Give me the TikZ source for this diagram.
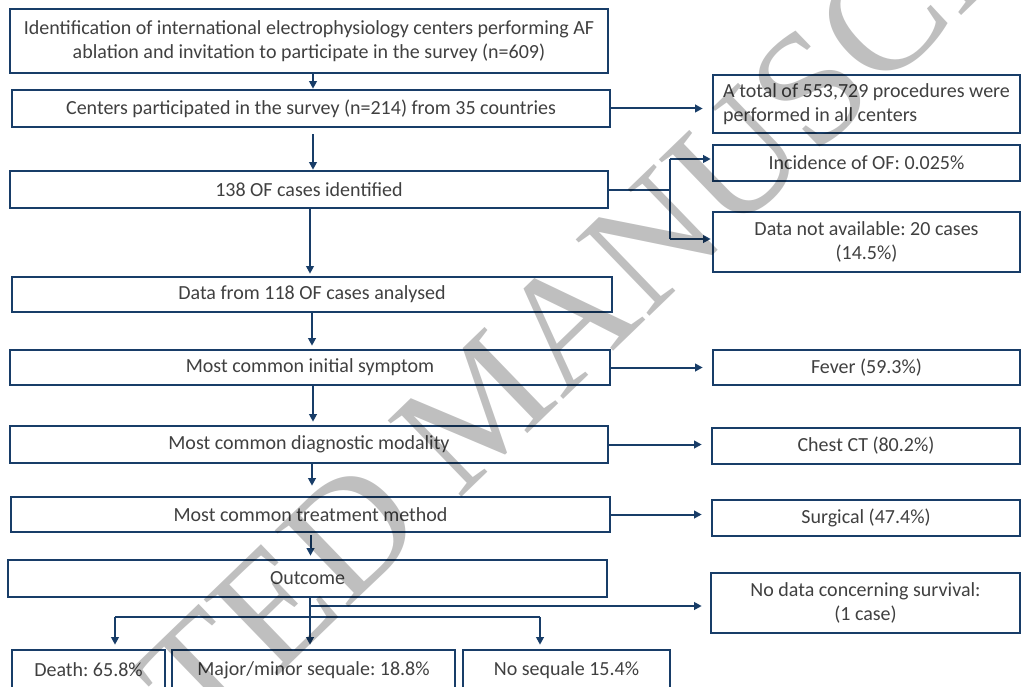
\documentclass[tikz,border=0pt]{standalone}
\usepackage{fontspec}
\setmainfont{Carlito}
\newfontfamily\wmfont{Liberation Serif}
\usetikzlibrary{arrows.meta,calc}
\definecolor{navy}{RGB}{24,61,104}
\definecolor{txt}{RGB}{64,64,64}
\frenchspacing
\tikzset{
  box/.style={draw=navy, line width=2.6pt, rectangle, inner sep=0pt, text=txt,
    font=\fontsize{20}{24}\selectfont\frenchspacing, align=center},
  conn/.style={draw=navy, line width=2pt},
  arr/.style={conn, -{Triangle[length=7.5pt,width=7.5pt]}},
}
\begin{document}
\begin{tikzpicture}[x=1pt,y=-1pt]
\useasboundingbox (0,0) rectangle (1024,687);
\clip (0,0) rectangle (1024,687);
% left column
\node[box, minimum width=598, minimum height=64] (b1) at (309,41)
  {Identification of international electrophysiology centers performing AF\\ablation and invitation to participate in the survey (n=609)};
\node[box, minimum width=598, minimum height=37] (b2) at (311,108.5)
  {Centers participated in the survey (n=214) from 35 countries};
\node[box, minimum width=598, minimum height=37] (b3) at (309,189.5)
  {138 OF cases identified};
\node[box, minimum width=600, minimum height=35] (b4) at (312,294.5)
  {Data from 118 OF cases analysed};
\node[box, minimum width=600, minimum height=35] (b5) at (310,367.5)
  {Most common initial symptom};
\node[box, minimum width=598, minimum height=37] (b6) at (309,444.5)
  {Most common diagnostic modality};
\node[box, minimum width=599, minimum height=35] (b7) at (310.5,514.5)
  {Most common treatment method};
\node[box, minimum width=599, minimum height=37] (b8) at (307.5,578.5)
  {Outcome};
% right column
\node[box, minimum width=307, minimum height=58, align=left] (r1) at (866.5,104)
  {A total of 553,729 procedures were\\performed in all centers};
\node[box, minimum width=307, minimum height=36] (r2) at (866.5,163)
  {Incidence of OF: 0.025\%};
\node[box, minimum width=307, minimum height=60] (r3) at (866.5,242)
  {Data not available: 20 cases\\(14.5\%)};
\node[box, minimum width=307, minimum height=35] (r4) at (866.5,367.5)
  {Fever (59.3\%)};
\node[box, minimum width=308, minimum height=36] (r5) at (866,446)
  {Chest CT (80.2\%)};
\node[box, minimum width=308, minimum height=36] (r6) at (866,518)
  {Surgical (47.4\%)};
\node[box, minimum width=309, minimum height=60] (r7) at (865.5,603)
  {No data concerning survival:\\(1 case)};
% bottom row
\node[box, minimum width=153, minimum height=40] (d1) at (88.5,670) {Death: 65.8\%};
\node[box, minimum width=283, minimum height=40] (d2) at (313.5,670) {Major/minor sequale: 18.8\%};
\node[box, minimum width=207, minimum height=40] (d3) at (566.5,670) {No sequale 15.4\%};
% connectors
\draw[arr] ([xshift=4pt]b1.south) -- ([xshift=4pt]b1.south |- b2.north);
\draw[arr, shorten >=9pt] (b2.east) -- (b2.east -| r1.west);
\draw[arr, shorten <=6pt] ([xshift=2pt]b2.south) -- ([xshift=2pt]b2.south |- b3.north);
\coordinate (s1) at (670,189.5);
\draw[conn] (b3.east) -- (s1);
\draw[conn] (670,159) -- (670,239);
\draw[arr, shorten >=1pt] (670,159) -- (670,159 -| r2.west);
\draw[arr, shorten >=1pt] (670,239) -- (670,239 -| r3.west);
\draw[arr, shorten >=2pt] ([xshift=1pt]b3.south) -- ([xshift=1pt]b3.south |- b4.north);
\draw[arr, shorten >=3pt] (b4.south) -- (b4.south |- b5.north);
\draw[arr, shorten >=9pt] (b5.east) -- (b5.east -| r4.west);
\draw[arr, shorten >=3pt] ([xshift=3pt]b5.south) -- ([xshift=3pt]b5.south |- b6.north);
\draw[arr, shorten >=9pt] (b6.east) -- (b6.east -| r5.west);
\draw[arr, shorten >=10pt] ([xshift=3pt]b6.south) -- ([xshift=3pt]b6.south |- b7.north);
\draw[arr, shorten >=9pt] (b7.east) -- (b7.east -| r6.west);
\draw[arr, shorten >=3pt, shorten <=2pt] (b7.south) -- (b7.south |- b8.north);
\coordinate (j1) at (310,606);
\coordinate (jl) at (115,617);
\coordinate (jr) at (540,617);
\draw[arr, shorten >=4pt] (j1 |- b8.south) -- (j1 |- d2.north);
\draw[arr, shorten >=8pt] (j1) -- (j1 -| r7.west);
\draw[conn] (jl) -- (jr);
\draw[arr, shorten >=4pt] (jl) -- (jl |- d1.north);
\draw[arr, shorten >=4pt] (jr) -- (jr |- d3.north);
% watermark
\node[rotate=44, text=black, opacity=0.25, font=\wmfont\fontsize{162}{162}\selectfont, inner sep=0pt] (wm) at (482,405) {ACCEPTED MANUSCRIPT};
\end{tikzpicture}
\end{document}
